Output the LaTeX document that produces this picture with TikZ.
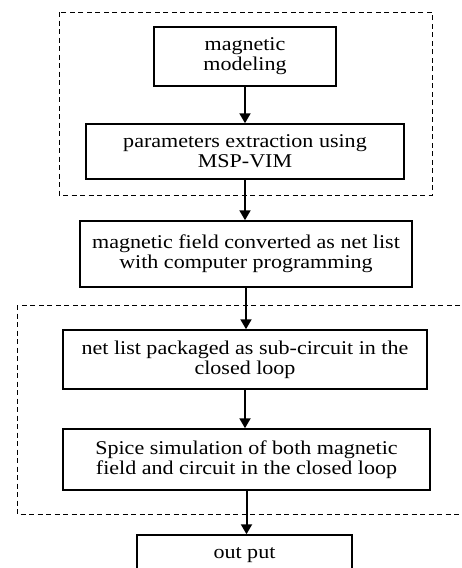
\documentclass[tikz,border=0pt]{standalone}
\usepackage{fontspec}
\setmainfont{Liberation Serif}[FakeStretch=1.13]
\usepackage{tikz}
\usetikzlibrary{arrows.meta}

\begin{document}
\begin{tikzpicture}[x=1pt,y=-1pt,
    stepbox/.style={draw,line width=1.5pt,align=center,inner sep=0pt,
      font=\fontsize{19.5}{20}\selectfont},
    flow/.style={line width=2pt,-{Triangle[length=10pt,width=11pt]}},
    group/.style={draw,dashed,line width=0.8pt,dash pattern=on 5pt off 3.5pt} ]
    \useasboundingbox (0,0) rectangle (462,568);
    % first group: modeling and extraction
    \draw [group] (59,12) rectangle (432,195);
    \node at (245,56.5) [stepbox,minimum width=182,minimum height=59] (model) {magnetic\\modeling};
    \node at (245,151.5) [stepbox,minimum width=318,minimum height=55] (extract) {parameters extraction using\\MSP-VIM};
    \node at (246,254) [stepbox,minimum width=332,minimum height=66] (netlist) {magnetic field converted as net list\\with computer programming};
    % second group: closed loop simulation
    \draw [group] (17,305) rectangle (480,514);
    \node at (245,359.5) [stepbox,minimum width=364,minimum height=59] (subckt) {net list packaged as sub-circuit in the\\closed loop};
    \node at (246.5,459.5) [stepbox,minimum width=367,minimum height=61] (spice) {Spice simulation of both magnetic\\field and circuit in the closed loop};
    \node at (244.5,560) [stepbox,minimum width=215,minimum height=50,text depth=14pt] (output) {out put};
    \draw [flow] (model) to (extract);
    \draw [flow] (extract) to (extract |- netlist.north);
    \draw [flow] (netlist) to (netlist |- subckt.north);
    \draw [flow] (subckt) to (subckt |- spice.north);
    \draw [flow] (spice) to (spice |- output.north);
\end{tikzpicture}
\end{document}
